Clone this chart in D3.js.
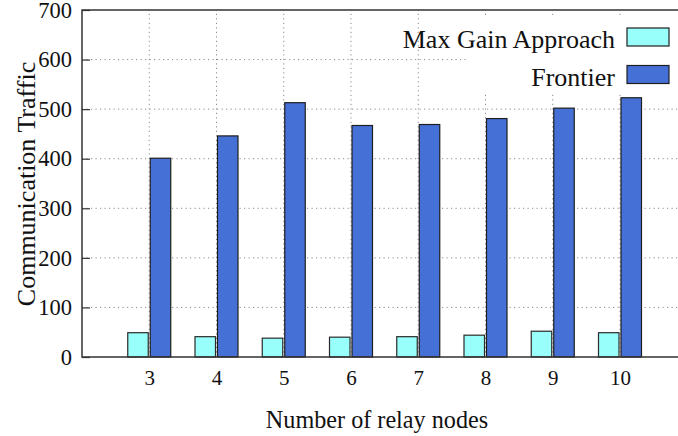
<!DOCTYPE html>
<html>
<head>
<meta charset="utf-8">
<script src="https://cdn.jsdelivr.net/npm/d3@7"></script>
<style>
  body { margin: 0; background: #fff; }
  svg { display: block; }
  svg text { font-family: "Liberation Serif", "Times New Roman", serif; }
</style>
</head>
<body>
<div id="chart"></div>
<script>
// relay node counts on the x axis
const relayNodes = [3, 4, 5, 6, 7, 8, 9, 10];
// communication traffic per approach
const maxGainValues = [49, 41, 38, 40, 41, 44, 52, 49];
const frontierValues = [401, 446, 513, 467, 469, 481, 502, 523];
const seriesNames = ["Max Gain Approach", "Frontier"];
const yTicks = [0, 100, 200, 300, 400, 500, 600, 700];

const width = 678, height = 436;
const margin = {top: 10, left: 82, bottom: 79};
const serif = '"Liberation Serif", "Times New Roman", serif';

const svg = d3.select("#chart")
  .append("svg")
    .attr("width", width)
    .attr("height", height);

// x is a numeric scale so the plot can run past the right edge like the original
const x = d3.scaleLinear()
    .domain([2, 11])
    .range([margin.left, margin.left + 9 * 67.25]);

const y = d3.scaleLinear()
    .domain([0, 700])
    .range([height - margin.bottom, margin.top]);

const barW = 20.5, gap = 1;

// grid lines
svg.append("g")
  .selectAll("line")
  .data(yTicks.slice(1, -1))
  .join("line")
    .attr("x1", margin.left)
    .attr("x2", width)
    .attr("y1", d => y(d))
    .attr("y2", d => y(d))
    .attr("stroke", "#8a8a8a")
    .attr("stroke-width", 1)
    .attr("stroke-dasharray", "1.2,3.3");

svg.append("g")
  .selectAll("line")
  .data(relayNodes)
  .join("line")
    .attr("x1", d => x(d))
    .attr("x2", d => x(d))
    .attr("y1", y(0))
    .attr("y2", y(700))
    .attr("stroke", "#8a8a8a")
    .attr("stroke-width", 1)
    .attr("stroke-dasharray", "1.2,3.3");

// legend background hides the grid behind the key
svg.append("rect")
    .attr("x", 468)
    .attr("y", 15)
    .attr("width", width - 468)
    .attr("height", 77)
    .attr("fill", "#fff");

// bars
svg.append("g")
  .selectAll("rect")
  .data(relayNodes.map((n, i) => ({n, v: maxGainValues[i]})))
  .join("rect")
    .attr("x", d => x(d.n) - gap - barW)
    .attr("y", d => y(d.v))
    .attr("width", barW)
    .attr("height", d => y(0) - y(d.v))
    .attr("fill", "#99fffb")
    .attr("stroke", "#2a2a2a")
    .attr("stroke-width", 1.2);

svg.append("g")
  .selectAll("rect")
  .data(relayNodes.map((n, i) => ({n, v: frontierValues[i]})))
  .join("rect")
    .attr("x", d => x(d.n) + gap)
    .attr("y", d => y(d.v))
    .attr("width", barW)
    .attr("height", d => y(0) - y(d.v))
    .attr("fill", "#4570d6")
    .attr("stroke", "#1e1e1e")
    .attr("stroke-width", 1.2);

// axes
const yAxis = svg.append("g")
    .attr("transform", `translate(${margin.left},0)`)
    .attr("font-family", serif)
    .call(d3.axisLeft(y).tickValues(yTicks).tickSize(-8).tickPadding(10));
yAxis.attr("font-family", serif);
yAxis.select(".domain").remove();
yAxis.selectAll(".tick line").attr("stroke", "#333").attr("stroke-width", 1.2);
yAxis.selectAll("text")
    .style("font-family", serif)
    .attr("font-size", 22.5)
    .attr("fill", "#111");

const xAxis = svg.append("g")
    .attr("transform", `translate(0,${y(0)})`)
    .call(d3.axisBottom(x).tickValues(relayNodes).tickSize(0).tickPadding(13).tickFormat(d3.format("d")));
xAxis.attr("font-family", serif);
xAxis.select(".domain").remove();
xAxis.selectAll("text")
    .style("font-family", serif)
    .attr("font-size", 21)
    .attr("fill", "#111");

// frame: left, bottom, top
svg.append("path")
    .attr("d", `M${width},${y(700)}H${margin.left}V${y(0)}H${width}`)
    .attr("fill", "none")
    .attr("stroke", "#333")
    .attr("stroke-width", 1.5);

// axis titles
svg.append("text")
    .attr("x", 377)
    .attr("y", 428)
    .attr("text-anchor", "middle")
    .attr("font-size", 24.2)
    .attr("fill", "#111")
    .text("Number of relay nodes");

svg.append("text")
    .attr("transform", "translate(35,184) rotate(-90)")
    .attr("text-anchor", "middle")
    .attr("font-size", 26)
    .attr("fill", "#111")
    .text("Communication Traffic");

// legend
const legend = svg.append("g");
const legendColors = ["#99fffb", "#4570d6"];
seriesNames.forEach((name, i) => {
  const cy = 37 + i * 37.5;
  legend.append("text")
      .attr("x", 615)
      .attr("y", cy + 11)
      .attr("text-anchor", "end")
      .attr("font-size", 26)
      .attr("fill", "#111")
      .text(name);
  legend.append("rect")
      .attr("x", 627)
      .attr("y", cy - 9)
      .attr("width", 42)
      .attr("height", 18)
      .attr("fill", legendColors[i])
      .attr("stroke", "#1e1e1e")
      .attr("stroke-width", 1.2);
});
</script>
</body>
</html>
